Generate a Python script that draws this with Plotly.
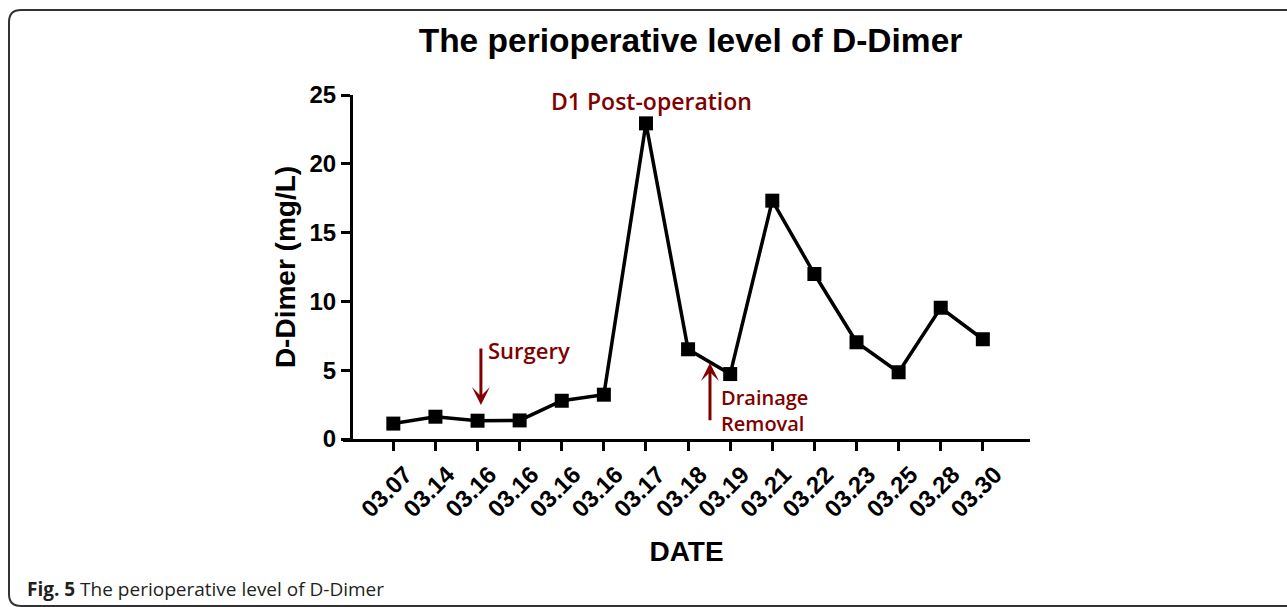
import plotly.graph_objects as go

W, H = 1287, 607

dates = ["03.07", "03.14", "03.16", "03.16", "03.16", "03.16", "03.17", "03.18",
         "03.19", "03.21", "03.22", "03.23", "03.25", "03.28", "03.30"]
ddimer = [1.12, 1.62, 1.33, 1.35, 2.78, 3.22, 22.94, 6.52, 4.72, 17.32, 11.99,
          7.03, 4.85, 9.54, 7.25]
y_ticks = [0, 5, 10, 15, 20, 25]

RED = "#800000"
AX = "Liberation Sans"


def px(x):
    return x / W


def py(y):
    return 1 - y / H


idx = list(range(len(dates)))

fig = go.Figure()
fig.add_trace(go.Scatter(
    x=idx, y=ddimer, mode="lines+markers",
    line=dict(color="black", width=3.5),
    marker=dict(symbol="square", size=14, color="black"),
    showlegend=False, cliponaxis=False,
))

# frame around the figure (rounded left corners, right side cut off)
r = 12
frame = (f"M {px(1300)},{py(10)} L {px(9 + r)},{py(10)} Q {px(9)},{py(10)} {px(9)},{py(10 + r)} "
         f"L {px(9)},{py(606 - r)} Q {px(9)},{py(606)} {px(9 + r)},{py(606)} L {px(1300)},{py(606)}")
fig.add_shape(type="path", path=frame, xref="paper", yref="paper",
              line=dict(color="#333333", width=2))

# annotations
fig.add_annotation(x=6.12, y=24.6, xref="x", yref="y", text="D1 Post-operation",
                   showarrow=False, xanchor="center", yanchor="middle",
                   font=dict(family="Open Sans", size=23, color=RED, weight=600))
fig.add_annotation(x=2.2, y=6.47, xref="x", yref="y", text="Surgery",
                   showarrow=False, xanchor="left", yanchor="middle",
                   font=dict(family="Open Sans", size=22, color=RED, weight=600))
fig.add_annotation(x=7.76, y=2.1, xref="x", yref="y", text="Drainage<br>Removal",
                   showarrow=False, xanchor="left", yanchor="middle", align="left",
                   borderpad=0,
                   font=dict(family="Open Sans", size=20, color=RED, weight=600))
# arrows
fig.add_annotation(x=2.08, y=2.47, ax=2.08, ay=6.69, xref="x", yref="y",
                   axref="x", ayref="y", text="", showarrow=True,
                   arrowhead=3, arrowsize=1.0, arrowwidth=3, arrowcolor=RED)
fig.add_annotation(x=7.52, y=5.52, ax=7.52, ay=1.26, xref="x", yref="y",
                   axref="x", ayref="y", text="", showarrow=True,
                   arrowhead=3, arrowsize=1.0, arrowwidth=3, arrowcolor=RED)

# caption
fig.add_annotation(x=px(25), y=py(589), xref="paper", yref="paper",
                   text="<b>Fig. 5</b> The perioperative level of D-Dimer",
                   showarrow=False, xanchor="left", yanchor="middle",
                   font=dict(family="Open Sans", size=19, color="#231f20"))

fig.update_layout(
    width=W, height=H,
    margin=dict(l=0, r=0, t=0, b=0),
    paper_bgcolor="white", plot_bgcolor="white",
    title=dict(text="The perioperative level of D-Dimer", x=px(690.5), y=py(40),
               xanchor="center", yanchor="middle", xref="paper", yref="paper",
               font=dict(family=AX, size=33.5, color="black", weight="bold")),
    xaxis=dict(
        domain=[px(343), px(1030)], range=[-1.195, 15.12],
        tickmode="array", tickvals=idx, ticktext=dates, tickangle=-45,
        ticks="outside", ticklen=9, tickwidth=3, tickcolor="black",
        showline=True, linewidth=3, linecolor="black",
        showgrid=False, zeroline=False, automargin=False, anchor="y",
        ticklabelshift=12,
        tickfont=dict(family=AX, size=24, color="black", weight="bold"),
        title=dict(text="DATE", standoff=21,
                   font=dict(family=AX, size=28, color="black", weight="bold")),
    ),
    yaxis=dict(
        domain=[py(439), py(95)], range=[0, 25],
        anchor="free", position=px(351),
        tickmode="array", tickvals=y_ticks,
        ticks="outside", ticklen=9, tickwidth=3, tickcolor="black",
        showline=True, linewidth=3, linecolor="black",
        showgrid=False, zeroline=False, automargin=False,
        tickfont=dict(family=AX, size=24, color="black", weight="bold"),
        title=dict(text="D-Dimer (mg/L)", standoff=4,
                   font=dict(family=AX, size=28, color="black", weight="bold")),
    ),
)

fig.write_html(
    "out.html",
    config={"displayModeBar": False},
    post_script="document.body.style.margin='0';document.body.style.overflow='hidden';",
)
